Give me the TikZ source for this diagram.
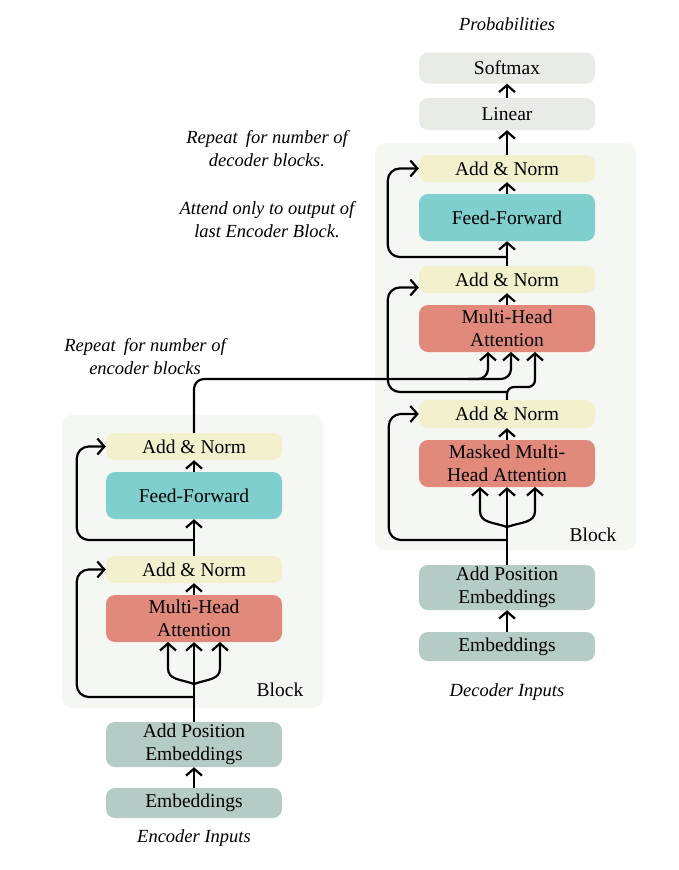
\documentclass[tikz,border=0pt]{standalone}
\usepackage{fontspec}
\setmainfont{Liberation Serif}
\usetikzlibrary{arrows.meta,calc}
\definecolor{blockbg}{HTML}{F5F7F2}
\definecolor{addnorm}{HTML}{F3F1CD}
\definecolor{ffc}{HTML}{7ECFCD}
\definecolor{mhac}{HTML}{E18A7B}
\definecolor{embc}{HTML}{B5CBC6}
\definecolor{outc}{HTML}{E9ECE6}
\begin{document}
\begin{tikzpicture}[x=1pt,y=-1pt,
  box/.style={rectangle, rounded corners=9pt, minimum width=176pt, align=center,
    font=\fontsize{19.5}{23.5}\selectfont, inner sep=0pt},
  note/.style={align=center, font=\fontsize{18.5}{23}\selectfont\itshape, inner sep=0pt},
  lbl/.style={font=\fontsize{19.5}{23}\selectfont, inner sep=0pt},
  ln/.style={line width=2.2pt},
  arr/.style={ln, -{Straight Barb[length=7pt,width=16pt,line width=2.2pt]}},
  skip/.style={arr, rounded corners=12pt},
  blk/.style={fill=blockbg, rounded corners=10pt}
]
\fill[white] (0,0) rectangle (678,870);
\useasboundingbox (0,0) rectangle (678,870);

% block backgrounds
\fill[blk] (375,143) rectangle (636,550);
\fill[blk] (62,415) rectangle (323,708);

% decoder nodes
\node[note] (prob) at (507,24) {Probabilities};
\node[box, fill=outc, minimum height=31pt] (dsm) at (507,68) {Softmax};
\node[box, fill=outc, minimum height=32pt] (dlin) at (507,114) {Linear};
\node[box, fill=addnorm, minimum height=27pt] (dan3) at (507,168.5) {Add \& Norm};
\node[box, fill=ffc, minimum height=47pt] (dff) at (507,217.5) {Feed-Forward};
\node[box, fill=addnorm, minimum height=27pt] (dan2) at (507,279.5) {Add \& Norm};
\node[box, fill=mhac, minimum height=47pt] (dmha) at (507,328.5) {Multi-Head\\Attention};
\node[box, fill=addnorm, minimum height=28pt] (dan1) at (507,414) {Add \& Norm};
\node[box, fill=mhac, minimum height=47pt] (dmmha) at (507,463.5) {Masked Multi-\\Head Attention};
\node[lbl] (dblock) at (593,535) {Block};
\node[box, fill=embc, minimum height=45pt] (dape) at (507,587.5) {Add Position\\Embeddings};
\node[box, fill=embc, minimum height=29pt] (demb) at (507,646.5) {Embeddings};
\node[note] (dinp) at (507,692) {Decoder Inputs};

% encoder nodes
\node[box, fill=addnorm, minimum height=27pt] (ean2) at (194,446.5) {Add \& Norm};
\node[box, fill=ffc, minimum height=47pt] (eff) at (194,495.5) {Feed-Forward};
\node[box, fill=addnorm, minimum height=27pt] (ean1) at (194,569.5) {Add \& Norm};
\node[box, fill=mhac, minimum height=47pt] (emha) at (194,618.5) {Multi-Head\\Attention};
\node[lbl] (eblock) at (280,690) {Block};
\node[box, fill=embc, minimum height=45pt] (eape) at (194,744.5) {Add Position\\Embeddings};
\node[box, fill=embc, minimum height=30pt] (eemb) at (194,803) {Embeddings};
\node[note] (einp) at (194,838) {Encoder Inputs};

% notes
\node[note] (erep) at (145,356.5) {Repeat\hspace{0.45em}for number of\\encoder blocks};
\node[note] (drep) at (267,149) {Repeat\hspace{0.45em}for number of\\decoder blocks.};
\node[note] (datt) at (267,219.5) {Attend only to output of\\last Encoder Block.};

% ---------- encoder connectors ----------
\draw[arr] (eemb.north) -- (eape.south);
\coordinate (ej) at (194,697);
\coordinate (ef) at (194,684);
\draw[arr] (eape.north) -- (emha.south);
\draw[arr] (ef) .. controls (180,679) and (168,680) .. (168,668) -- (168,642);
\draw[arr] (ef) .. controls (208,679) and (220,680) .. (220,668) -- (220,642);
\draw[skip] (ej) -| ([xshift=-29pt]ean1.west) -- (ean1.west);
\draw[arr] (emha.north) -- (ean1.south);
\draw[arr] (ean1.north) -- (eff.south);
\coordinate (ej2) at (194,540);
\draw[skip] (ej2) -| ([xshift=-29pt]ean2.west) -- (ean2.west);
\draw[arr] (eff.north) -- (ean2.south);

% encoder output to decoder cross-attention
\draw[arr, rounded corners=10pt] (ean2.north) |- (488,379) -- (488,352);
\draw[arr, rounded corners=10pt] (468,379) -| (511,352);

% ---------- decoder connectors ----------
\draw[arr] (demb.north) -- (dape.south);
\coordinate (dj) at (507,540);
\coordinate (df) at (507,527);
\draw[arr] (dape.north) -- (dmmha.south);
\draw[arr] (df) .. controls (493,522) and (480,523) .. (480,511) -- (480,487);
\draw[arr] (df) .. controls (521,522) and (535,523) .. (535,511) -- (535,487);
\draw[skip] (dj) -| ([xshift=-30pt]dan1.west) -- (dan1.west);
\draw[arr] (dmmha.north) -- (dan1.south);
\draw[arr, rounded corners=7pt] (dan1.north) |- (535,387) -- (535,352);
\coordinate (dj2) at (507,392);
\draw[skip] (dj2) -| ([xshift=-31pt,yshift=-8pt]dan2.west) -- ([yshift=-8pt]dan2.west);
\draw[arr] (dmha.north) -- (dan2.south);
\draw[arr] (dan2.north) -- (dff.south);
\coordinate (dj3) at (507,257);
\draw[skip] (dj3) -| ([xshift=-31pt]dan3.west) -- (dan3.west);
\draw[arr] (dff.north) -- (dan3.south);
\draw[arr] (dan3.north) -- (dlin.south);
\draw[arr] (dlin.north) -- (dsm.south);
\end{tikzpicture}
\end{document}
